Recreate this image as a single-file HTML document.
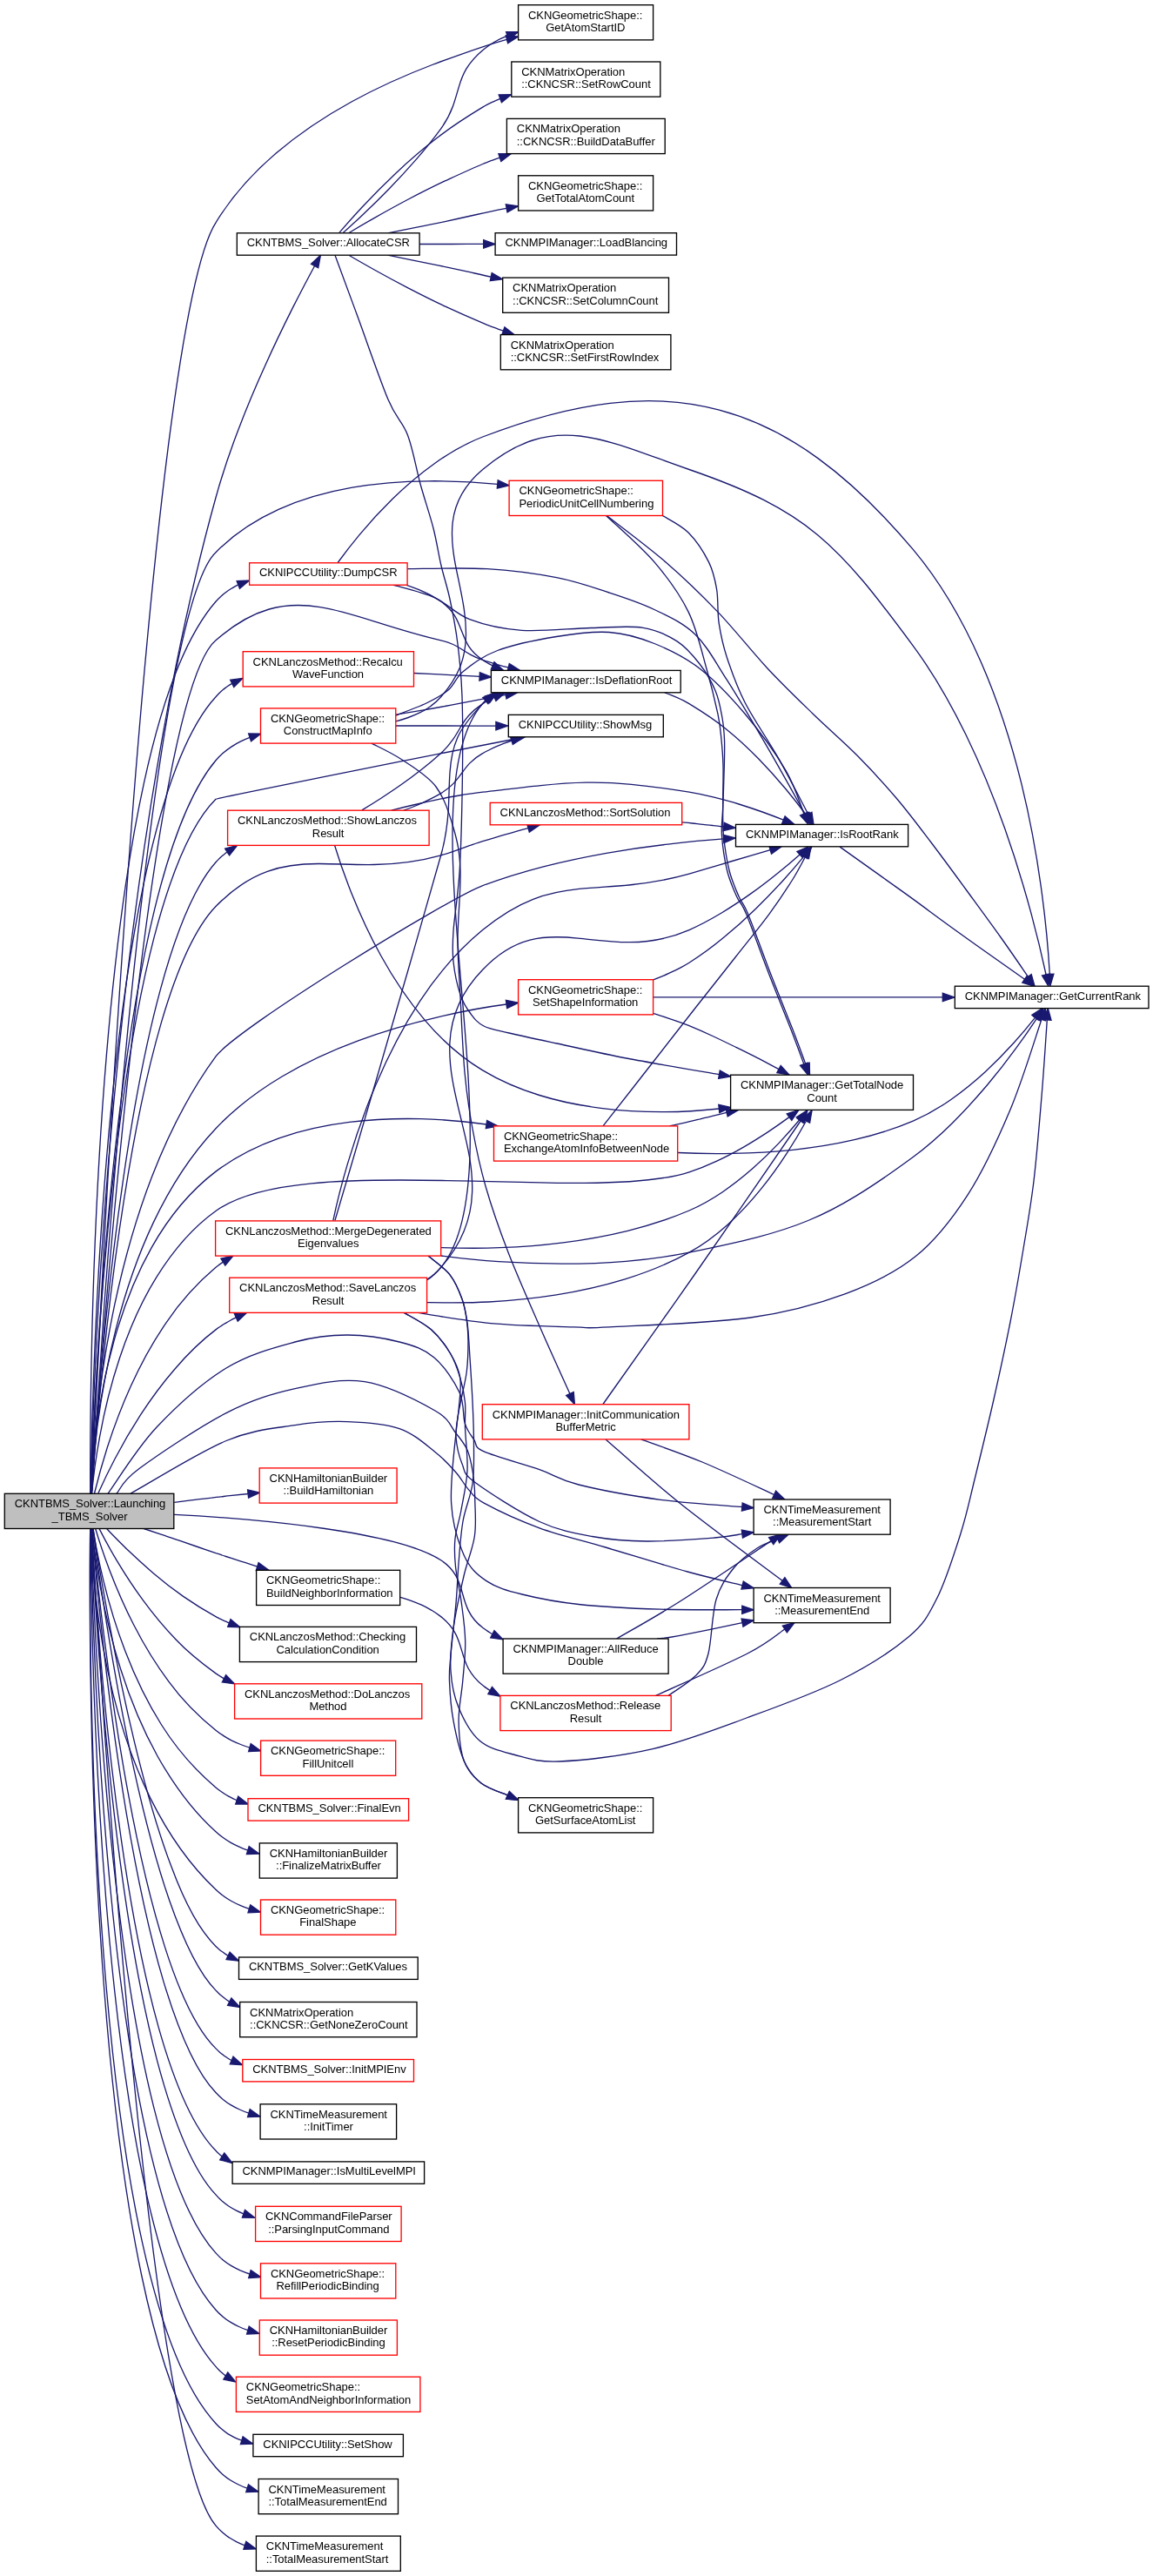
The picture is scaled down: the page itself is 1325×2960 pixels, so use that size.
<!DOCTYPE html>
<html><head><meta charset="utf-8"><title>Call graph</title><style>html,body{margin:0;padding:0;background:#fff}svg{display:block}</style></head><body>
<svg width="1325" height="2960" viewBox="0 0 1325 2960" style="will-change:transform">
<rect x="0" y="0" width="1325" height="2960" fill="#ffffff"/>
<g fill="none" stroke="#191970" stroke-width="1.33">
<path d="M104.3,1716.2 C104.9,1687.2 106.4,1629.4 110.3,1551.8 114.1,1474.3 120.4,1377.1 130.5,1269.4 140.5,1161.7 154.4,1043.6 173.5,924.2 192.6,805.3 217.0,683.5 248.0,571.8 255.1,546.0 264.0,519.6 273.9,493.7 283.7,467.8 294.5,442.4 305.3,418.7 316.0,394.9 326.7,372.9 336.4,353.6 346.2,334.4 354.9,317.9 361.6,305.5"/>
<path d="M103.8,1716.2 C103.6,1682.9 103.7,1612.1 106.0,1522.2 108.4,1432.3 113.1,1323.2 122.3,1213.4 131.5,1103.6 145.1,992.9 165.4,899.9 185.6,806.5 212.4,732.0 248.0,691.2 249.8,689.1 251.7,687.2 253.7,685.4 255.7,683.6 257.8,681.9 260.0,680.3 262.1,678.7 264.4,677.2 266.7,675.8 269.0,674.5 271.4,673.1 273.8,671.9"/>
<path d="M104.2,1715.9 C104.6,1684.6 105.8,1620.5 109.3,1539.8 112.9,1459.0 118.8,1361.7 128.7,1264.0 138.6,1166.2 152.4,1068.0 171.8,985.5 191.1,903.2 216.0,835.5 248.0,800.7 249.4,799.1 250.8,797.6 252.2,796.2 253.7,794.8 255.2,793.4 256.8,792.1 258.4,790.9 260.0,789.6 261.6,788.5 263.3,787.4 265.0,786.4 266.7,785.4"/>
<path d="M104.6,1716.2 C105.6,1686.5 107.8,1627.2 112.5,1553.0 117.2,1478.8 124.2,1389.6 134.7,1300.0 145.3,1210.4 159.2,1120.5 177.7,1044.7 196.3,968.6 219.3,907.7 248.0,873.7 250.6,870.7 253.4,867.9 256.4,865.3 259.4,862.7 262.6,860.3 265.9,858.1 269.2,855.9 272.7,853.8 276.2,852.1 279.8,850.4 283.4,848.8 287.1,847.4"/>
<path d="M105.2,1716.2 C106.9,1689.0 110.4,1637.1 116.2,1572.8 122.1,1508.5 130.4,1431.9 141.6,1355.1 152.7,1278.3 166.8,1201.5 184.4,1136.8 201.9,1072.3 223.0,1019.2 248.0,990.8 249.0,989.7 250.0,988.6 251.0,987.6 252.1,986.5 253.1,985.5 254.2,984.5 255.3,983.6 256.4,982.6 257.6,981.7 258.7,980.8 259.9,979.9 261.1,979.0"/>
<path d="M108.5,1716.0 C111.7,1703.0 116.5,1684.6 123.3,1663.3 130.2,1642.0 139.0,1617.8 150.2,1593.1 161.4,1568.3 175.0,1543.0 191.2,1519.6 207.3,1495.7 226.2,1474.7 248.0,1456.3 248.7,1455.8 249.3,1455.2 250.0,1454.7 250.7,1454.2 251.4,1453.6 252.1,1453.1 252.8,1452.6 253.5,1452.1 254.2,1451.6 254.9,1451.1 255.6,1450.6 256.3,1450.1"/>
<path d="M112.9,1715.8 C117.6,1705.3 124.0,1691.6 132.2,1676.0 140.3,1660.5 150.2,1643.3 161.6,1625.7 173.0,1608.1 186.0,1590.3 200.4,1573.7 214.8,1556.8 230.7,1541.0 248.0,1527.9 249.8,1526.5 251.6,1525.2 253.5,1524.0 255.4,1522.7 257.3,1521.5 259.3,1520.4 261.2,1519.2 263.2,1518.1 265.2,1517.0 267.2,1515.9 269.3,1514.9 271.3,1513.9"/>
<path d="M200.3,1726.3 C207.2,1725.4 214.2,1724.6 221.3,1723.7 228.5,1722.8 235.6,1721.9 242.8,1721.1 250.0,1720.1 257.1,1719.5 264.2,1718.7 271.3,1718.0 278.3,1717.2 285.1,1716.5"/>
<path d="M165.2,1756.5 C171.6,1758.7 178.3,1760.9 185.1,1763.2 191.9,1765.5 198.9,1767.7 206.0,1770.2 213.0,1772.6 220.1,1775.0 227.2,1777.5 234.2,1779.9 241.2,1782.3 248.0,1784.7 251.9,1785.9 255.8,1787.2 259.7,1788.5 263.7,1789.8 267.7,1791.1 271.7,1792.4 275.7,1793.7 279.7,1795.0 283.7,1796.2 287.8,1797.5 291.8,1798.8 295.7,1800.1"/>
<path d="M122.8,1756.8 C129.2,1763.6 137.1,1771.6 146.0,1780.3 155.0,1788.9 165.1,1798.2 175.9,1807.4 186.8,1816.7 198.4,1825.8 210.6,1834.4 222.7,1842.8 235.3,1850.7 248.0,1857.6 249.2,1858.3 250.5,1858.9 251.7,1859.6 253.0,1860.2 254.3,1860.8 255.5,1861.4 256.8,1862.0 258.1,1862.6 259.4,1863.2 260.7,1863.8 262.0,1864.3 263.3,1864.9"/>
<path d="M114.2,1756.9 C119.2,1766.7 125.9,1779.2 134.2,1793.2 142.6,1807.2 152.5,1822.7 163.9,1838.2 175.3,1853.8 188.1,1869.5 202.2,1884.0 216.2,1898.8 231.6,1911.0 248.0,1922.9 248.8,1923.4 249.5,1923.9 250.3,1924.4 251.1,1924.9 251.9,1925.4 252.6,1925.9 253.4,1926.4 254.2,1926.9 255.0,1927.4 255.8,1927.9 256.6,1928.3 257.4,1928.8"/>
<path d="M109.7,1756.5 C113.3,1768.7 118.7,1785.3 126.0,1804.5 133.3,1823.6 142.5,1845.3 153.8,1867.3 165.1,1889.4 178.5,1911.8 194.2,1932.6 209.8,1953.9 227.7,1971.9 248.0,1988.2 250.9,1990.5 253.9,1992.6 257.0,1994.6 260.1,1996.6 263.3,1998.4 266.5,2000.1 269.8,2001.7 273.2,2003.2 276.6,2004.5 280.0,2005.8 283.4,2007.1 286.9,2008.2"/>
<path d="M106.9,1756.9 C109.2,1771.2 112.9,1792.1 118.9,1816.4 124.8,1840.8 132.9,1868.7 143.9,1897.3 154.8,1925.8 168.5,1955.0 185.6,1982.0 202.8,2009.3 223.3,2033.0 248.0,2053.9 249.8,2055.4 251.7,2056.9 253.6,2058.2 255.6,2059.6 257.5,2060.9 259.6,2062.2 261.6,2063.4 263.7,2064.6 265.8,2065.7 267.9,2066.9 270.0,2067.7 272.2,2068.6"/>
<path d="M105.7,1756.6 C107.3,1772.2 110.2,1795.7 115.3,1823.7 120.5,1851.6 127.9,1884.1 138.5,1917.5 149.1,1951.0 163.0,1985.5 180.9,2017.7 198.8,2049.5 220.9,2080.4 248.0,2104.7 250.6,2107.1 253.4,2109.4 256.3,2111.5 259.2,2113.6 262.2,2115.6 265.3,2117.4 268.4,2119.2 271.6,2120.7 274.9,2122.1 278.1,2123.6 281.5,2124.9 284.8,2126.1"/>
<path d="M104.3,1756.8 C104.8,1774.2 106.2,1801.6 110.0,1834.6 113.7,1867.5 119.9,1906.2 129.9,1946.3 139.9,1986.3 153.8,2027.9 173.0,2066.6 192.2,2105.2 216.7,2141.8 248.0,2171.2 250.7,2173.8 253.6,2176.2 256.6,2178.5 259.6,2180.7 262.7,2182.8 265.9,2184.5 269.2,2186.3 272.5,2187.9 275.9,2189.3 279.3,2190.8 282.8,2192.1 286.3,2193.3"/>
<path d="M107.1,1756.9 C110.4,1778.5 116.3,1815.0 124.4,1858.7 132.4,1902.3 142.7,1953.1 154.9,2003.4 167.1,2053.6 181.1,2103.3 196.8,2144.6 212.4,2186.8 229.6,2218.5 248.0,2236.4 249.1,2237.5 250.2,2238.5 251.3,2239.5 252.4,2240.4 253.6,2241.4 254.8,2242.3 256.0,2243.1 257.2,2244.0 258.4,2244.9 259.6,2245.7 260.9,2246.5 262.1,2247.3"/>
<path d="M106.7,1757.0 C109.7,1779.9 115.1,1819.6 122.8,1867.4 130.6,1915.3 140.5,1971.3 152.6,2026.9 164.6,2082.5 178.7,2137.7 194.7,2183.8 210.7,2229.8 228.5,2267.4 248.0,2287.1 249.2,2288.3 250.4,2289.6 251.6,2290.7 252.9,2291.9 254.2,2293.0 255.5,2294.1 256.8,2295.2 258.2,2296.2 259.5,2297.2 260.9,2298.2 262.3,2299.2 263.7,2300.1"/>
<path d="M105.9,1757.0 C108.2,1781.6 112.7,1825.8 119.5,1879.6 126.3,1933.4 135.4,1996.7 147.1,2059.7 158.7,2122.7 172.8,2185.3 189.6,2237.6 206.3,2289.8 225.7,2331.9 248.0,2353.9 249.4,2355.3 250.7,2356.6 252.2,2357.9 253.6,2359.1 255.1,2360.3 256.6,2361.4 258.1,2362.6 259.7,2363.6 261.3,2364.7 262.9,2365.7 264.5,2366.7 266.1,2367.5"/>
<path d="M105.6,1756.5 C107.7,1782.0 111.8,1829.2 118.3,1887.1 124.7,1945.0 133.6,2013.6 145.0,2082.1 156.5,2150.5 170.6,2218.9 187.7,2276.1 204.8,2333.0 224.8,2380.5 248.0,2404.5 250.6,2407.3 253.4,2409.9 256.3,2412.4 259.2,2414.7 262.3,2417.0 265.5,2418.9 268.7,2420.8 272.0,2422.5 275.4,2424.0 278.8,2425.6 282.3,2427.0 285.9,2428.2"/>
<path d="M105.0,1756.5 C106.5,1783.6 109.6,1835.2 115.1,1899.0 120.6,1962.8 128.5,2038.9 139.5,2114.8 150.4,2190.7 164.5,2266.5 182.3,2329.9 200.2,2393.1 221.8,2444.7 248.0,2471.3 248.6,2471.9 249.1,2472.5 249.7,2473.1 250.3,2473.6 250.9,2474.2 251.5,2474.8 252.1,2475.3 252.7,2475.8 253.3,2476.4 254.0,2476.9 254.6,2477.4 255.2,2477.9"/>
<path d="M104.9,1756.7 C106.2,1784.9 109.0,1839.5 114.2,1907.4 119.5,1975.2 127.1,2056.4 137.9,2137.6 148.7,2218.9 162.8,2300.3 180.8,2368.6 198.9,2436.2 221.0,2493.4 248.0,2521.9 250.2,2524.5 252.6,2526.8 255.0,2529.0 257.5,2531.1 260.1,2533.1 262.8,2535.0 265.5,2536.8 268.3,2538.3 271.2,2539.8 274.0,2541.3 277.0,2542.6 280.0,2543.8"/>
<path d="M104.5,1756.9 C105.4,1786.6 107.5,1845.5 112.0,1919.0 116.4,1992.6 123.3,2080.9 133.7,2169.5 144.1,2258.0 158.0,2346.8 176.7,2421.3 195.4,2495.5 218.7,2556.8 248.0,2588.9 250.6,2591.8 253.4,2594.6 256.4,2597.1 259.4,2599.6 262.6,2601.8 265.9,2603.7 269.2,2605.6 272.6,2607.3 276.1,2608.9 279.7,2610.4 283.3,2611.8 286.9,2613.0"/>
<path d="M104.3,1756.8 C104.8,1787.8 106.1,1850.8 109.9,1929.9 113.7,2009.0 119.8,2104.3 129.8,2200.0 139.8,2295.7 153.7,2391.9 172.9,2472.6 192.1,2553.0 216.6,2619.6 248.0,2654.2 250.5,2657.0 253.2,2659.6 256.0,2662.0 258.8,2664.4 261.8,2666.7 265.0,2668.4 268.1,2670.3 271.3,2672.0 274.6,2673.5 278.0,2675.1 281.4,2676.4 284.9,2677.7"/>
<path d="M104.0,1756.6 C104.2,1788.8 104.9,1855.7 107.9,1940.3 111.0,2024.9 116.4,2127.3 125.9,2230.2 135.5,2333.2 149.3,2436.7 169.0,2523.8 188.8,2610.5 214.5,2682.2 248.0,2719.4 248.9,2720.4 249.7,2721.3 250.6,2722.3 251.5,2723.2 252.5,2724.1 253.4,2725.0 254.4,2725.9 255.3,2726.7 256.3,2727.6 257.3,2728.4 258.3,2729.2 259.3,2730.0"/>
<path d="M103.7,1756.8 C103.4,1790.3 103.1,1861.6 105.1,1952.0 107.1,2042.4 111.4,2152.1 120.4,2262.3 129.4,2372.6 143.0,2483.6 163.5,2576.7 184.0,2669.5 211.4,2745.4 248.0,2784.7 250.1,2787.0 252.2,2789.1 254.6,2791.1 256.9,2793.1 259.3,2794.9 261.8,2796.6 264.3,2798.2 266.9,2799.5 269.5,2800.8 272.2,2802.1 274.9,2803.2 277.7,2804.2"/>
<path d="M103.7,1756.8 C103.3,1791.1 102.8,1865.2 104.7,1959.5 106.6,2053.9 110.7,2168.5 119.6,2284.2 128.5,2399.8 142.0,2516.4 162.7,2614.5 183.3,2712.7 210.9,2792.5 248.0,2835.3 250.4,2838.1 253.0,2840.8 255.8,2843.2 258.6,2845.6 261.5,2847.9 264.5,2849.8 267.6,2851.7 270.8,2853.4 274.1,2855.0 277.3,2856.6 280.7,2858.0 284.1,2859.2"/>
<path d="M105.2,1756.7 C107.3,1794.2 112.4,1878.8 120.0,1986.1 127.6,2093.4 137.7,2223.4 150.1,2351.5 162.4,2479.6 177.0,2605.8 193.4,2705.6 209.9,2805.9 228.2,2879.1 248.0,2902.1 250.3,2904.8 252.7,2907.3 255.2,2909.6 257.8,2911.9 260.5,2914.2 263.3,2915.8 266.1,2917.6 269.0,2919.3 272.1,2920.8 275.1,2922.3 278.2,2923.6 281.3,2924.8"/>
<path d="M104.9,1715.9 C106.9,1673.1 111.8,1568.6 119.4,1433.9 126.9,1299.2 137.1,1134.2 149.5,970.6 161.9,806.9 176.6,644.5 193.1,514.8 209.6,385.8 228.1,286.5 248.0,255.8 266.3,225.8 290.1,199.4 317.0,176.3 343.9,153.3 373.9,133.4 404.8,116.5 435.7,99.6 467.5,85.6 497.9,74.0 528.2,62.8 557.2,52.0 582.5,45.3"/>
<path d="M105.2,1716.2 C107.4,1679.9 112.5,1599.2 120.0,1497.3 127.6,1395.4 137.8,1272.2 150.1,1151.1 162.5,1029.9 177.0,910.8 193.4,816.9 209.9,723.9 228.2,652.9 248.0,634.7 268.8,613.5 293.4,597.5 320.1,585.4 346.8,573.3 375.5,565.3 404.8,560.2 434.0,555.1 463.6,553.0 492.0,552.8 520.4,552.5 547.5,554.0 571.7,556.3"/>
<path d="M105.4,1716.2 C107.7,1681.9 112.9,1607.6 120.7,1514.5 128.5,1421.3 138.8,1309.4 151.2,1199.6 163.6,1089.8 178.1,982.2 194.4,897.8 210.6,813.7 228.6,752.0 248.0,735.8 269.7,716.7 289.7,705.6 309.3,700.0 328.9,694.4 348.0,694.4 367.8,697.6 387.7,700.7 408.4,707.1 431.1,714.3 453.9,721.5 478.6,729.4 506.7,735.8 512.4,737.1 516.9,738.7 520.7,740.5 524.6,742.2 527.8,744.2 530.9,746.2 534.1,748.3 537.2,750.3 541.0,752.3 544.7,754.4 549.1,756.4 554.7,758.3 557.0,759.1 559.4,759.9 561.9,760.7 564.3,761.5 566.8,762.2 569.2,762.9 571.7,763.7 574.2,764.4 576.7,765.1 579.2,765.7 581.7,766.4 584.2,767.0"/>
<path d="M104.6,1716.3 C105.5,1687.4 107.7,1630.5 112.3,1559.5 116.8,1488.5 123.8,1403.5 134.2,1318.3 144.7,1233.2 158.7,1148.0 177.2,1076.7 195.8,1005.7 219.0,947.2 248.0,918.3 248.4,917.9 262.3,914.9 284.8,910.3 307.3,905.6 338.5,899.3 373.4,892.3 408.4,885.3 447.1,877.6 484.8,870.1 522.5,862.6 559.1,855.6 589.8,849.5"/>
<path d="M105.4,1716.1 C107.2,1689.8 110.9,1640.8 116.9,1580.5 123.0,1520.2 131.4,1448.7 142.7,1377.2 153.9,1305.8 168.0,1234.5 185.4,1174.9 202.8,1115.4 223.5,1066.9 248.0,1041.5 268.6,1020.5 288.0,1008.2 307.3,1001.3 326.5,994.3 345.6,992.5 365.7,992.5 385.8,992.4 406.8,993.9 430.0,993.5 453.1,993.1 478.3,990.7 506.7,982.8 512.1,981.2 516.4,979.9 520.3,978.6 524.1,977.3 527.4,976.1 530.7,974.9 534.0,973.7 537.3,972.4 541.1,971.1 544.9,969.7 549.3,968.3 554.7,966.6 558.9,965.3 563.2,964.0 567.6,962.8 571.9,961.5 576.4,960.2 580.8,958.9 585.2,957.7 589.6,956.4 594.0,955.2 598.4,953.9 602.8,952.7 607.0,951.6"/>
<path d="M104.8,1715.9 C105.7,1698.5 107.6,1671.4 111.9,1638.7 116.3,1605.9 122.9,1567.4 133.2,1527.2 143.4,1487.0 157.3,1445.0 176.0,1405.4 194.7,1365.7 218.3,1328.2 248.0,1296.7 270.1,1273.4 296.1,1253.7 324.1,1237.0 352.1,1220.3 382.1,1206.7 412.3,1195.6 442.5,1184.4 473.0,1175.8 501.9,1169.1 530.8,1162.1 558.1,1157.1 582.0,1154.0"/>
<path d="M104.4,1715.9 C105.0,1699.2 106.6,1673.5 110.6,1643.0 114.5,1612.4 120.9,1577.0 131.0,1540.8 141.1,1504.6 154.9,1467.6 174.0,1433.8 193.0,1400.1 217.2,1369.5 248.0,1346.1 270.0,1329.5 294.7,1317.0 320.7,1307.8 346.8,1298.6 374.2,1292.8 401.7,1289.4 429.3,1286.0 457.0,1285.1 483.6,1285.7 510.2,1286.1 535.7,1289.0 558.9,1292.0"/>
<path d="M200.1,1740.3 C225.8,1741.6 254.7,1743.5 284.4,1746.2 314.2,1748.9 344.7,1752.3 373.5,1756.5 402.3,1760.7 429.5,1765.7 452.5,1771.7 475.5,1777.7 494.4,1784.7 506.7,1792.8 515.1,1798.3 520.4,1804.6 523.9,1810.7 527.5,1817.0 529.4,1823.6 531.3,1830.3 533.1,1837.1 534.9,1843.7 538.3,1850.6 541.7,1857.5 546.6,1864.1 554.7,1870.3 555.6,1870.9 556.5,1871.6 557.4,1872.2 558.3,1872.9 559.2,1873.5 560.1,1874.1 561.1,1874.8 562.0,1875.4 563.0,1876.0 563.9,1876.6 564.9,1877.1 565.9,1877.7"/>
<path d="M104.5,1716.2 C105.3,1697.5 107.0,1667.0 111.1,1629.3 115.2,1591.6 121.7,1546.7 131.8,1498.9 142.0,1451.2 155.8,1400.6 174.7,1351.7 193.7,1302.9 217.6,1255.4 248.0,1213.9 254.0,1205.7 273.8,1190.3 300.7,1171.4 327.6,1152.6 361.7,1130.4 396.1,1108.8 430.6,1087.1 465.5,1066.1 494.1,1049.6 522.8,1033.1 545.2,1021.2 554.7,1017.6 577.1,1009.2 600.6,1002.0 624.5,995.8 648.5,989.7 672.9,984.6 696.9,980.3 721.0,976.1 744.7,972.7 767.4,970.1 790.1,967.4 811.7,965.3 831.6,963.9"/>
<path d="M105.5,1716.2 C106.9,1700.8 109.6,1677.8 114.6,1650.8 119.5,1623.8 126.8,1592.7 137.3,1561.0 147.8,1529.3 161.6,1497.0 179.8,1467.7 197.9,1438.5 220.3,1411.3 248.0,1391.5 272.5,1373.7 311.6,1364.3 358.2,1359.8 404.8,1355.2 458.9,1355.5 513.5,1356.6 568.2,1356.9 623.4,1359.9 672.1,1359.4 720.9,1359.1 763.2,1356.2 792.0,1346.8 802.7,1343.3 813.3,1339.0 823.8,1334.1 834.3,1329.3 844.6,1323.8 854.5,1318.1 864.4,1312.4 873.8,1306.4 882.7,1300.6 891.5,1294.7 899.7,1288.9 907.0,1283.6"/>
<path d="M394.3,267.5 C400.7,261.8 408.7,254.5 417.7,245.9 426.7,237.4 436.7,227.7 446.9,217.2 457.2,206.6 467.7,195.3 477.9,183.6 488.1,171.9 497.9,159.9 506.7,147.8 513.3,138.7 517.4,130.3 520.4,122.2 523.4,114.0 525.2,106.7 527.4,99.6 529.5,92.5 531.9,85.7 536.0,78.9 540.1,72.4 545.8,65.2 554.7,57.8 556.8,56.0 559.0,54.4 561.2,52.8 563.5,51.2 565.8,49.7 568.2,48.3 570.6,46.9 573.1,45.5 575.5,44.4 578.0,43.2 580.6,42.1 583.1,41.1"/>
<path d="M389.9,267.4 C396.4,259.8 405.4,249.5 416.4,237.7 427.5,225.8 440.5,212.5 455.0,198.9 469.4,185.3 485.4,171.4 502.2,158.5 519.0,145.3 536.7,134.0 554.7,123.1 556.3,122.2 557.9,121.3 559.5,120.4 561.2,119.6 562.8,118.8 564.5,117.9 566.2,117.1 567.9,116.3 569.6,115.6 571.3,114.8 573.0,114.0 574.8,113.3"/>
<path d="M400.7,267.7 C408.9,262.8 419.0,256.8 430.4,250.3 441.9,243.8 454.7,236.7 468.3,229.5 481.9,222.4 496.2,215.1 510.8,208.2 525.4,201.5 540.2,194.6 554.7,188.5 556.3,187.8 557.9,187.2 559.5,186.6 561.1,185.9 562.7,185.3 564.4,184.7 566.0,184.1 567.7,183.5 569.3,182.9 571.0,182.3 572.7,181.7 574.3,181.1"/>
<path d="M445.6,267.8 C455.7,265.8 466.6,263.6 477.8,261.3 489.1,259.1 500.7,256.8 512.5,254.3 524.3,251.8 536.2,249.1 547.9,246.5 559.6,243.8 571.1,241.5 582.1,239.4"/>
<path d="M482.1,280.5 C488.0,280.5 494.1,280.5 500.2,280.5 506.3,280.5 512.5,280.5 518.7,280.5 524.9,280.5 531.1,280.4 537.2,280.4 543.4,280.4 549.6,280.4 555.7,280.4"/>
<path d="M445.6,293.2 C454.4,295.0 463.7,296.9 473.4,298.8 483.0,300.8 493.0,302.8 503.2,304.8 513.4,306.9 523.7,309.2 533.9,311.4 544.1,313.6 554.3,316.2 564.3,318.1"/>
<path d="M401.3,293.5 C409.5,298.3 419.7,304.1 431.1,310.5 442.6,316.9 455.3,323.8 468.9,330.9 482.4,337.9 496.7,345.1 511.2,351.9 525.7,358.6 540.4,365.1 554.7,371.2 556.6,372.1 558.5,372.8 560.5,373.6 562.4,374.4 564.4,375.2 566.4,375.9 568.3,376.6 570.3,377.4 572.3,378.1 574.3,378.8 576.4,379.5 578.4,380.2"/>
<path d="M467.2,672.3 C470.7,673.5 474.1,674.7 477.6,676.1 481.0,677.4 484.4,678.9 487.7,680.4 491.0,682.0 494.3,683.6 497.5,685.4 500.6,687.2 503.7,689.1 506.7,691.2 514.2,696.4 519.1,701.9 522.6,707.6 526.1,713.4 528.3,719.2 530.5,725.1 532.7,730.9 535.0,736.8 538.5,742.4 542.1,748.0 547.0,753.3 554.7,758.3 555.6,758.9 556.5,759.5 557.4,760.1 558.4,760.7 559.3,761.2 560.3,761.8 561.3,762.3 562.2,762.8 563.2,763.4 564.2,763.9 565.2,764.4 566.2,764.9"/>
<path d="M388.2,646.5 C394.1,638.4 402.6,627.1 413.2,614.4 423.9,601.6 436.7,587.4 451.1,573.3 465.6,559.1 481.8,545.1 499.2,532.7 516.6,520.3 535.2,509.5 554.7,502.0 607.7,481.6 656.0,468.6 700.9,463.3 745.8,458.1 787.2,460.3 826.6,471.2 866.0,481.7 903.4,499.9 940.0,526.6 976.7,553.2 1012.7,588.0 1049.3,631.4 1081.3,669.5 1106.8,714.0 1127.1,760.2 1147.4,806.5 1162.6,854.9 1174.0,901.2 1185.3,947.5 1192.8,991.7 1197.7,1029.4 1202.7,1067.2 1205.1,1098.6 1206.3,1119.3"/>
<path d="M475.5,773.5 C481.6,773.8 487.8,774.1 494.0,774.4 500.3,774.7 506.6,775.0 513.0,775.3 519.3,775.7 525.7,776.0 532.1,776.4 538.5,776.7 544.8,777.0 551.1,777.4"/>
<path d="M455.0,821.2 C464.6,819.5 474.8,817.8 485.3,816.1 495.7,814.4 506.5,812.5 517.3,810.4 528.2,808.3 539.1,806.2 549.8,804.2 560.5,802.1 571.0,800.2 581.1,798.4"/>
<path d="M455.0,834.0 C463.7,834.0 472.9,834.0 482.4,834.0 491.9,834.0 501.6,834.0 511.4,834.0 521.3,834.0 531.2,834.1 541.0,834.1 550.8,834.1 560.5,834.1 569.9,834.1"/>
<path d="M427.0,854.1 C432.8,857.2 449.7,864.7 462.0,873.0 C474.3,881.3 491.2,891.0 501.0,904.0 C510.8,917.0 516.3,935.0 521.0,951.0 C525.7,967.0 528.2,978.5 529.0,1000.0 C529.8,1021.5 526.0,1055.8 526.0,1080.0 C526.0,1104.2 527.7,1119.7 529.0,1145.0 C530.3,1170.3 531.7,1206.7 534.0,1232.0 C536.3,1257.3 539.0,1275.2 543.0,1297.0 C547.0,1318.8 551.2,1339.3 558.0,1363.0 C564.8,1386.7 573.5,1411.8 584.0,1439.0 C594.5,1466.2 609.2,1498.9 621.0,1526.0 C632.8,1553.1 649.3,1589.0 654.9,1601.5"/>
<path d="M454.9,828.8 C459.7,827.6 464.5,826.2 469.2,824.5 473.9,822.8 478.5,820.9 482.9,818.7 487.4,816.4 491.6,814.1 495.6,810.9 499.6,807.9 503.3,804.5 506.7,800.7 526.8,778.2 534.1,757.7 535.3,734.2 536.5,711.4 531.5,688.1 526.8,665.7 522.1,644.2 517.7,621.4 520.2,600.1 522.7,578.6 532.0,558.6 554.7,539.5 574.9,522.6 593.7,511.9 611.9,506.0 630.2,500.1 648.0,499.0 666.3,501.0 684.7,503.1 703.7,508.4 724.3,515.3 744.9,522.3 767.1,530.9 792.0,539.5 826.4,551.4 854.2,562.5 878.0,574.7 901.8,586.8 921.6,599.7 939.7,614.7 957.9,629.8 974.4,647.0 991.9,667.8 1009.3,688.5 1027.6,712.8 1049.3,742.1 1072.4,773.3 1092.5,808.5 1110.0,844.3 1127.5,880.2 1142.4,917.1 1154.8,952.3 1167.2,987.4 1177.2,1020.8 1185.0,1049.7 1192.8,1078.6 1198.4,1102.9 1202.1,1120.0"/>
<path d="M416.0,930.9 C422.6,926.9 429.9,922.4 437.5,917.5 445.0,912.6 452.9,907.4 460.8,901.8 468.7,896.3 476.7,890.4 484.4,884.3 492.2,878.3 499.7,872.0 506.7,865.6 512.9,860.0 517.2,854.5 520.6,849.7 524.0,844.7 526.6,840.0 529.3,835.5 532.0,830.9 534.7,826.6 538.6,822.3 542.5,817.9 547.6,813.3 554.7,808.6 555.7,807.9 556.8,807.3 557.9,806.6 559.0,806.0 560.1,805.3 561.2,804.7 562.3,804.1 563.5,803.5 564.6,802.9 565.8,802.3 566.9,801.7 568.1,801.2"/>
<path d="M464.0,931.2 C467.6,929.9 471.3,928.5 475.0,927.0 478.7,925.5 482.3,924.0 485.9,922.4 489.5,920.7 493.0,919.0 496.5,917.2 500.0,915.4 503.4,913.5 506.7,911.6 513.0,907.8 517.6,904.0 521.3,900.1 524.9,896.3 527.7,892.4 530.6,888.5 533.4,884.6 536.2,880.7 539.9,876.9 543.7,873.1 548.3,869.3 554.7,865.7 557.2,864.2 559.9,862.9 562.6,861.5 565.3,860.2 568.0,858.9 570.8,857.7 573.6,856.5 576.4,855.3 579.3,854.2 582.1,853.1 585.0,852.0 587.9,851.0"/>
<path d="M449.9,931.2 C457.9,929.1 466.2,927.0 474.8,925.0 483.4,922.9 492.2,920.9 501.1,919.1 510.0,917.3 519.1,915.5 528.0,914.0 537.0,912.5 545.9,911.3 554.7,910.2 580.9,907.2 602.3,904.6 621.3,902.7 640.3,900.7 657.0,899.5 673.6,899.2 690.2,898.9 706.8,899.5 725.7,901.3 744.7,903.1 766.0,906.0 792.0,910.2 801.4,911.8 811.0,913.8 820.6,916.1 830.2,918.5 839.8,921.0 849.1,924.0 858.4,926.9 867.5,929.9 876.1,933.0 884.7,936.1 892.9,939.2 900.3,942.2"/>
<path d="M384.6,971.5 C388.7,985.0 395.1,1004.1 403.9,1026.2 412.7,1048.2 423.9,1073.2 437.8,1098.3 451.7,1123.5 468.3,1148.8 487.7,1171.6 507.1,1194.6 529.3,1214.6 554.7,1229.9 575.0,1242.1 597.0,1251.5 619.9,1258.5 642.8,1265.6 666.6,1270.3 690.4,1273.3 714.1,1276.3 737.9,1277.6 760.8,1277.6 783.8,1277.8 805.9,1276.2 826.3,1274.0"/>
<path d="M384.9,1402.5 C389.6,1386.7 396.7,1362.6 405.4,1333.0 414.1,1303.3 424.5,1267.9 435.7,1229.5 446.9,1191.1 458.9,1149.7 471.0,1107.7 483.1,1065.7 495.2,1023.2 506.7,982.8 512.1,963.4 514.2,946.8 515.2,931.6 516.1,915.9 516.0,901.3 517.0,887.6 517.9,874.0 520.0,860.8 525.6,848.0 531.1,835.0 540.0,824.1 554.7,808.6 555.1,808.2 555.5,807.7 556.0,807.3 556.4,806.9 556.9,806.5 557.3,806.1 557.7,805.7 558.2,805.3 558.7,804.9 559.1,804.5 559.6,804.1 560.0,803.8"/>
<path d="M492.1,1443.1 C496.3,1446.8 510.7,1456.8 517.2,1465.1 C523.7,1473.4 527.8,1483.8 531.1,1492.9 C534.4,1502.1 535.5,1508.8 537.0,1520.0 C538.5,1531.2 539.0,1545.0 540.0,1560.0 C541.0,1575.0 542.2,1593.3 543.0,1610.0 C543.8,1626.7 544.5,1644.2 544.5,1660.0 C544.5,1675.8 545.1,1690.3 543.0,1705.0 C540.9,1719.7 534.6,1732.9 532.0,1748.0 C529.4,1763.1 528.4,1780.0 527.1,1795.5 C525.8,1811.0 525.6,1823.4 524.1,1841.1 C522.6,1858.8 519.3,1886.6 518.0,1901.8 C516.7,1917.0 516.0,1919.4 516.5,1932.1 C517.0,1944.8 518.3,1962.5 521.1,1977.7 C523.9,1992.9 527.9,2011.3 533.2,2023.2 C538.5,2035.1 544.6,2042.4 553.0,2049.0 C561.4,2055.6 578.4,2060.6 583.5,2063.0"/>
<path d="M382.8,1402.6 C386.0,1387.3 391.4,1364.4 399.4,1337.4 407.4,1310.3 418.0,1279.1 431.7,1246.9 445.4,1214.7 462.1,1181.5 482.4,1150.6 502.8,1119.6 526.7,1091.6 554.7,1068.6 575.8,1051.2 594.6,1040.3 612.6,1033.3 630.6,1026.3 647.8,1023.2 665.6,1021.4 683.4,1019.5 701.8,1018.9 722.4,1017.0 743.0,1015.0 765.7,1011.6 792.0,1004.2 799.7,1001.9 807.6,999.6 815.6,997.2 823.6,994.8 831.6,992.4 839.6,990.0 847.6,987.7 855.4,985.4 863.1,983.2 870.7,981.0 878.2,978.8 885.2,976.7"/>
<path d="M506.7,1433.6 C527.7,1434.3 550.5,1434.7 574.2,1433.7 597.8,1432.8 622.4,1431.0 647.2,1427.8 672.0,1424.7 696.9,1420.3 721.3,1414.3 745.7,1408.3 769.5,1400.6 792.0,1391.0 805.2,1385.3 818.1,1378.0 830.3,1369.7 842.6,1361.4 854.2,1352.1 865.1,1342.6 875.9,1333.0 886.0,1323.1 895.0,1313.6 904.0,1304.1 912.0,1294.9 918.8,1286.8"/>
<path d="M507.0,1443.0 C527.6,1445.7 549.8,1448.3 573.0,1449.7 596.2,1451.2 620.5,1452.1 645.1,1452.2 669.7,1452.2 694.6,1451.4 719.3,1449.3 744.0,1447.2 768.5,1443.9 792.0,1439.1 822.4,1432.9 847.5,1427.5 869.5,1421.8 891.5,1416.1 910.4,1410.1 928.7,1402.5 947.0,1395.0 964.6,1385.9 983.9,1374.1 1003.3,1362.4 1024.3,1347.9 1049.3,1329.5 1064.9,1318.0 1080.0,1304.7 1094.2,1290.7 1108.4,1276.6 1121.8,1261.8 1134.1,1247.3 1146.4,1232.7 1157.5,1218.3 1167.1,1205.1 1176.8,1192.0 1185.0,1180.0 1191.4,1170.3"/>
<path d="M490.9,1470.7 C492.4,1469.7 493.8,1468.8 495.2,1467.7 496.6,1466.6 497.9,1465.4 499.3,1464.2 500.6,1463.0 501.9,1461.8 503.1,1460.5 504.3,1459.1 505.5,1457.8 506.7,1456.3 529.9,1428.7 538.6,1381.5 540.1,1324.0 541.5,1267.8 535.7,1198.2 530.0,1132.1 524.3,1064.8 518.6,996.3 520.3,940.4 521.9,883.2 531.0,835.3 554.7,808.6 554.9,808.3 555.2,808.0 555.4,807.7 555.7,807.4 556.0,807.1 556.2,806.8 556.5,806.5 556.8,806.2 557.0,805.9 557.3,805.6 557.6,805.3 557.9,805.0"/>
<path d="M464.3,1508.4 C469.5,1511.6 486.6,1520.0 495.5,1527.8 C504.4,1535.6 512.2,1546.2 517.7,1555.5 C523.2,1564.8 526.0,1574.0 528.8,1583.3 C531.6,1592.5 533.4,1601.5 534.4,1611.0 C535.4,1620.5 534.1,1626.8 534.5,1640.0 C534.9,1653.2 537.8,1674.2 537.0,1690.0 C536.2,1705.8 532.3,1722.0 530.0,1735.0 C527.7,1748.0 524.1,1757.2 523.0,1768.0 C521.9,1778.8 522.3,1787.8 523.5,1800.0 C524.7,1812.2 528.3,1826.7 530.2,1841.1 C532.1,1855.5 534.5,1871.4 534.7,1886.6 C535.0,1901.8 533.0,1916.9 531.7,1932.1 C530.4,1947.3 526.9,1962.5 527.1,1977.7 C527.4,1992.9 528.9,2011.3 533.2,2023.2 C537.5,2035.1 544.6,2042.4 553.0,2049.0 C561.4,2055.6 578.4,2060.6 583.5,2063.0"/>
<path d="M491.1,1470.0 C492.5,1469.1 493.9,1468.2 495.3,1467.1 496.6,1466.0 498.0,1464.9 499.3,1463.8 500.6,1462.6 501.9,1461.4 503.1,1460.2 504.3,1459.0 505.5,1457.7 506.7,1456.3 532.4,1427.4 541.6,1399.5 542.6,1370.2 543.7,1340.9 536.5,1313.3 529.5,1284.5 522.4,1255.5 515.5,1226.8 516.9,1198.3 518.3,1169.5 528.2,1141.6 554.7,1114.3 573.2,1094.7 591.1,1084.7 609.1,1080.1 627.1,1075.5 645.2,1076.2 664.1,1078.1 682.9,1079.9 702.6,1082.9 723.7,1082.7 744.8,1082.6 767.3,1079.3 792.0,1068.6 804.4,1063.2 816.7,1056.5 828.8,1049.3 840.8,1041.9 852.5,1034.3 863.5,1026.4 874.5,1018.6 884.9,1010.6 894.2,1003.0 903.6,995.4 912.0,988.2 919.1,981.9"/>
<path d="M490.8,1496.6 C512.6,1496.9 536.5,1497.3 561.6,1496.0 586.7,1494.6 613.0,1492.1 639.4,1487.9 665.8,1483.7 692.4,1477.8 718.2,1469.9 743.9,1461.9 768.9,1451.8 792.0,1439.1 807.9,1430.4 822.7,1419.3 836.5,1406.9 850.2,1394.4 862.8,1380.7 874.2,1366.6 885.6,1352.6 895.7,1338.3 904.4,1324.8 913.2,1311.4 920.6,1298.7 926.5,1288.0"/>
<path d="M460.1,1835.3 C464.2,1836.5 468.3,1837.8 472.4,1839.3 476.5,1840.8 480.5,1842.4 484.4,1844.2 488.4,1846.0 492.2,1848.1 496.0,1850.3 499.7,1852.6 503.3,1855.0 506.7,1857.6 514.9,1864.1 520.0,1870.8 523.4,1877.1 526.9,1883.7 528.8,1890.3 530.7,1896.9 532.6,1903.5 534.5,1910.0 538.0,1916.8 541.4,1923.1 546.5,1930.2 554.7,1936.5 555.4,1937.0 556.0,1937.6 556.7,1938.1 557.4,1938.6 558.1,1939.1 558.9,1939.6 559.6,1940.1 560.3,1940.6 561.0,1941.1 561.7,1941.6 562.5,1942.1 563.2,1942.6"/>
<path d="M761.5,592.5 C766.4,595.8 782.3,603.1 791.1,612.0 C799.9,620.9 809.1,635.0 814.5,645.9 C819.9,656.8 821.6,665.4 823.6,677.1 C825.6,688.8 824.2,703.1 826.2,716.1 C828.2,729.1 830.3,740.0 835.3,755.2 C840.3,770.4 846.1,787.7 856.1,807.2 C866.1,826.7 883.1,850.9 895.2,872.3 C907.3,893.7 923.2,925.1 928.8,935.6"/>
<path d="M696.5,592.5 C705.8,601.4 736.2,627.5 752.0,645.9 C767.8,664.3 781.1,682.7 791.1,703.1 C801.1,723.5 806.3,748.7 811.9,768.2 C817.5,787.7 822.0,806.6 824.9,820.2 C827.8,833.8 828.0,840.0 829.0,850.0 C830.0,860.0 830.7,867.0 831.0,880.0 C831.3,893.0 830.6,914.7 830.7,928.0 C830.8,941.3 830.3,948.0 831.5,960.0 C832.7,972.0 835.1,988.3 838.0,1000.0 C840.9,1011.7 845.4,1021.7 849.0,1030.0 C852.6,1038.3 853.3,1035.0 859.5,1050.0 C865.7,1065.0 877.4,1097.8 886.0,1120.0 C894.6,1142.2 904.4,1165.9 911.0,1183.0 C917.6,1200.1 923.4,1216.1 925.8,1222.7"/>
<path d="M697.3,592.5 C708.6,601.4 743.8,627.5 765.1,645.9 C786.4,664.3 805.4,682.7 824.9,703.1 C844.4,723.5 864.0,748.7 882.2,768.2 C900.4,787.7 917.1,803.6 934.2,820.2 C951.3,836.8 969.0,851.9 985.0,868.0 C1001.0,884.1 1015.8,900.3 1030.0,917.0 C1044.2,933.7 1056.7,950.5 1070.0,968.0 C1083.3,985.5 1096.7,1003.8 1110.0,1022.0 C1123.3,1040.2 1138.1,1060.3 1150.0,1077.0 C1161.9,1093.7 1176.2,1114.7 1181.4,1122.2"/>
<path d="M763.8,795.9 C766.2,796.8 768.7,797.7 771.1,798.6 773.5,799.6 775.9,800.6 778.3,801.6 780.7,802.7 783.0,803.8 785.3,804.9 787.6,806.1 789.8,807.3 792.0,808.6 806.6,817.5 820.7,826.5 834.1,837.4 847.5,848.2 860.1,859.9 871.6,871.7 883.2,883.6 893.7,895.4 902.9,906.5 912.1,917.6 920.0,927.8 926.3,936.3"/>
<path d="M783.6,944.9 C787.5,945.2 791.5,945.5 795.6,946.0 799.6,946.4 803.6,946.9 807.7,947.3 811.7,947.8 815.8,948.2 819.8,948.6 823.8,949.1 827.8,949.5 831.8,949.9"/>
<path d="M750.7,1125.8 C754.3,1124.5 757.8,1123.1 761.4,1121.6 764.9,1120.1 768.5,1118.6 771.9,1116.9 775.4,1115.3 778.8,1113.6 782.2,1111.8 785.6,1110.0 788.8,1108.2 792.0,1106.2 805.6,1097.7 819.1,1087.8 831.9,1077.1 844.8,1066.5 857.1,1055.4 868.5,1044.2 879.9,1033.1 890.5,1022.0 899.9,1011.7 909.2,1001.4 917.4,991.8 924.0,983.8"/>
<path d="M751.1,1164.7 C754.5,1165.7 758.0,1166.8 761.5,1167.9 764.9,1169.0 768.4,1170.2 771.8,1171.3 775.3,1172.5 778.7,1173.7 782.0,1174.9 785.4,1176.2 788.7,1177.4 792.0,1178.7 800.9,1182.4 809.9,1186.3 819.0,1190.5 828.0,1194.7 837.0,1199.1 845.8,1203.4 854.7,1207.6 863.3,1212.0 871.6,1216.2 879.8,1220.5 887.7,1224.7 895.0,1228.6"/>
<path d="M751.0,1145.8 C772.7,1145.8 797.9,1145.8 825.0,1145.9 852.2,1146.0 881.4,1145.9 911.1,1145.9 940.8,1145.9 971.0,1145.9 1000.2,1145.9 1029.4,1145.9 1057.6,1145.9 1083.3,1145.9"/>
<path d="M693.0,1293.9 C702.5,1281.8 732.2,1243.8 750.0,1221.0 C767.8,1198.2 784.2,1177.2 800.0,1157.0 C815.8,1136.8 831.0,1117.8 845.0,1100.0 C859.0,1082.2 873.3,1064.8 884.1,1050.1 C894.9,1035.4 903.1,1022.9 910.0,1012.0 C916.9,1001.1 922.9,989.0 925.5,984.4"/>
<path d="M769.4,1293.9 C774.7,1292.7 780.1,1291.5 785.6,1290.3 791.0,1289.2 796.6,1287.8 802.1,1286.4 807.6,1285.1 813.2,1283.8 818.7,1282.4 824.2,1281.1 829.7,1279.8 835.1,1278.4"/>
<path d="M779.1,1324.5 C798.5,1325.5 819.7,1325.8 842.0,1325.4 864.2,1325.0 887.5,1323.8 911.1,1321.3 934.7,1318.8 958.5,1315.1 981.8,1309.7 1005.1,1304.3 1027.9,1297.2 1049.3,1288.1 1064.6,1281.5 1079.3,1273.0 1093.2,1263.2 1107.2,1253.4 1120.3,1242.6 1132.4,1231.5 1144.4,1220.3 1155.4,1209.0 1165.1,1198.3 1174.7,1187.6 1182.9,1177.6 1189.5,1169.3"/>
<path d="M693.2,1613.7 C694.3,1612.0 682.2,1628.8 700.0,1603.5 C717.8,1578.2 763.3,1514.6 800.0,1462.0 C836.7,1409.4 900.1,1317.0 920.1,1288.0"/>
<path d="M736.7,1653.9 C748.4,1658.2 781.5,1669.4 807.0,1680.0 C832.5,1690.6 875.9,1711.2 889.7,1717.5"/>
<path d="M696.1,1653.9 C710.1,1666.0 746.2,1699.1 780.0,1726.2 C813.8,1753.3 879.2,1801.4 899.1,1816.4"/>
<path d="M708.6,1883.0 C720.5,1876.0 750.4,1859.7 780.0,1841.0 C809.6,1822.3 868.5,1782.3 886.2,1770.6"/>
<path d="M755.0,1883.0 C759.2,1882.4 763.7,1882.7 780.0,1879.6 C796.3,1876.5 840.9,1867.2 853.0,1864.7"/>
<path d="M768.0,1948.4 C773.3,1944.5 792.3,1933.1 800.0,1925.0 C807.7,1916.9 810.2,1914.5 814.0,1900.0 C817.8,1885.5 818.2,1854.3 823.0,1838.0 C827.8,1821.7 835.2,1811.8 843.0,1802.0 C850.8,1792.2 861.5,1784.6 870.0,1779.0 C878.5,1773.4 889.8,1770.3 893.8,1768.6"/>
<path d="M753.6,1948.4 C771.2,1940.3 834.3,1912.7 859.0,1900.0 C883.7,1887.3 894.7,1876.7 901.8,1872.0"/>
<path d="M965.2,973.1 C976.5,981.1 992.0,992.2 1009.8,1004.9 1027.6,1017.8 1047.7,1031.5 1068.0,1047.0 1088.3,1062.1 1108.9,1076.8 1127.9,1090.2 1146.8,1103.6 1164.0,1115.8 1177.5,1125.3"/>
<path d="M134.0,1716.3 C138.3,1711.5 139.0,1703.0 160.0,1687.5 C181.0,1672.0 230.2,1638.9 260.0,1623.6 C289.8,1608.3 312.5,1601.7 339.0,1595.7 C365.5,1589.7 392.2,1583.5 419.0,1587.7 C445.8,1591.9 482.5,1611.1 500.0,1621.0 C517.5,1630.9 517.9,1639.7 524.0,1647.0 C530.1,1654.3 533.5,1658.9 536.4,1664.8 C539.3,1670.7 540.2,1676.0 541.6,1682.4 C543.0,1688.8 544.1,1696.4 544.8,1703.3 C545.5,1710.2 545.7,1713.7 545.8,1724.0 C545.9,1734.3 547.5,1750.5 545.4,1765.0 C543.3,1779.5 537.1,1793.3 533.0,1811.0 C528.9,1828.7 523.5,1852.8 521.0,1871.0 C518.5,1889.2 517.0,1904.8 518.0,1920.0 C519.0,1935.2 521.5,1948.7 527.0,1962.0 C532.5,1975.3 540.5,1991.0 551.0,2000.0 C561.5,2009.0 574.7,2012.0 590.0,2016.0 C605.3,2020.0 616.3,2025.1 643.0,2024.0 C669.7,2022.9 714.2,2017.9 750.0,2009.6 C785.8,2001.3 822.2,1987.1 858.0,1974.0 C893.8,1960.9 934.0,1946.5 965.0,1931.0 C996.0,1915.5 1025.3,1896.8 1044.0,1881.0 C1062.7,1865.2 1067.0,1855.8 1077.0,1836.0 C1087.0,1816.2 1096.8,1784.7 1104.0,1762.0 C1111.2,1739.3 1113.7,1725.7 1120.0,1700.0 C1126.3,1674.3 1135.2,1638.2 1142.0,1608.0 C1148.8,1577.8 1155.3,1547.8 1161.0,1519.0 C1166.7,1490.2 1171.5,1462.0 1176.0,1435.0 C1180.5,1408.0 1184.5,1386.2 1188.0,1357.0 C1191.5,1327.8 1194.4,1290.9 1197.0,1260.0 C1199.6,1229.1 1202.3,1186.6 1203.3,1171.9"/>
<path d="M124.0,1716.3 C133.3,1703.6 157.3,1664.0 180.0,1640.0 C202.7,1616.0 233.5,1588.3 260.0,1572.0 C286.5,1555.7 315.8,1548.3 339.0,1542.0 C362.2,1535.7 379.0,1534.0 399.0,1534.0 C419.0,1534.0 442.3,1537.7 459.0,1542.0 C475.7,1546.3 487.5,1550.3 499.0,1560.0 C510.5,1569.7 522.1,1587.4 528.0,1600.0 C533.9,1612.6 531.5,1626.5 534.3,1635.6 C537.1,1644.6 541.1,1648.9 544.8,1654.3 C548.4,1659.7 543.7,1662.2 556.2,1667.9 C568.7,1673.6 601.9,1682.4 620.0,1688.7 C638.1,1695.0 641.8,1700.2 665.0,1706.0 C688.2,1711.8 727.7,1719.0 759.0,1723.3 C790.3,1727.6 837.2,1730.2 852.8,1731.5"/>
<path d="M150.0,1716.3 C168.3,1706.2 228.5,1668.6 260.0,1655.5 C291.5,1642.4 315.8,1641.2 339.0,1637.6 C362.2,1633.9 379.0,1632.9 399.0,1633.6 C419.0,1634.3 442.2,1635.8 459.0,1641.6 C475.8,1647.4 489.2,1660.0 500.0,1668.4 C510.8,1676.8 517.6,1684.8 524.0,1692.0 C530.4,1699.2 533.1,1705.7 538.5,1711.6 C543.9,1717.5 542.6,1719.8 556.2,1727.2 C569.8,1734.6 596.7,1747.3 620.0,1755.8 C643.3,1764.3 667.7,1769.6 696.0,1778.0 C724.3,1786.4 763.8,1798.7 790.0,1806.0 C816.2,1813.3 842.6,1819.0 853.2,1821.6"/>
<path d="M464.3,1508.4 C469.5,1511.6 486.6,1520.0 495.5,1527.8 C504.4,1535.6 512.2,1546.2 517.7,1555.5 C523.2,1564.8 527.2,1572.5 528.8,1583.3 C530.4,1594.0 527.9,1608.7 527.1,1620.0 C526.3,1631.3 523.3,1640.6 524.0,1651.0 C524.7,1661.4 527.6,1673.7 531.2,1682.4 C534.8,1691.1 531.0,1692.3 545.8,1703.3 C560.6,1714.3 597.5,1738.1 620.0,1748.5 C642.5,1758.9 660.0,1761.8 680.5,1765.5 C701.0,1769.2 719.6,1770.8 743.0,1771.0 C766.4,1771.2 802.7,1768.4 821.0,1767.0 C839.3,1765.6 847.6,1763.3 852.9,1762.6"/>
<path d="M492.1,1443.1 C496.3,1446.8 510.7,1456.8 517.2,1465.1 C523.7,1473.4 527.9,1484.2 531.1,1492.9 C534.3,1501.6 535.1,1509.0 536.3,1517.1 C537.4,1525.2 538.0,1531.6 538.0,1541.4 C538.0,1551.2 537.7,1564.4 536.3,1576.0 C534.9,1587.6 531.3,1600.1 529.4,1610.8 C527.5,1621.5 526.5,1620.7 524.7,1640.0 C522.9,1659.3 517.2,1702.1 518.6,1726.7 C520.0,1751.3 526.6,1772.4 533.4,1787.4 C540.2,1802.4 548.3,1809.5 559.4,1816.9 C570.5,1824.3 582.4,1827.6 600.0,1832.0 C617.6,1836.4 638.5,1840.6 665.0,1843.5 C691.5,1846.4 727.7,1848.2 759.0,1849.2 C790.3,1850.2 837.1,1849.6 852.8,1849.7"/>
<path d="M385.0,293.2 C389.2,304.5 399.8,333.4 410.0,361.0 C420.2,388.6 436.3,435.9 446.0,459.0 C455.7,482.1 462.2,483.5 468.4,499.7 C474.6,515.9 478.1,538.1 483.0,556.0 C487.9,573.9 494.0,591.3 498.0,607.0 C502.0,622.7 503.8,636.4 507.0,650.0 C510.2,663.6 513.8,673.5 517.0,688.5 C520.2,703.5 523.7,721.4 526.0,740.0 C528.3,758.6 530.1,773.3 531.0,800.0 C531.9,826.7 531.8,866.7 531.3,900.0 C530.8,933.3 529.9,971.7 528.2,1000.0 C526.5,1028.3 522.2,1052.5 521.0,1070.0 C519.8,1087.5 519.7,1092.8 521.0,1105.0 C522.3,1117.2 525.7,1133.0 529.0,1143.0 C532.3,1153.0 536.5,1159.0 541.0,1165.0 C545.5,1171.0 548.7,1175.3 556.0,1179.0 C563.3,1182.7 571.0,1183.7 585.0,1187.0 C599.0,1190.3 617.5,1194.2 640.0,1199.0 C662.5,1203.8 688.9,1210.1 720.0,1216.0 C751.1,1221.9 808.7,1231.6 826.5,1234.7"/>
<path d="M452.0,672.2 C460.0,674.6 485.2,680.2 499.8,686.8 C514.4,693.4 523.1,705.4 539.7,711.6 C556.3,717.9 576.3,722.6 599.6,724.3 C622.9,725.9 656.2,722.0 679.4,721.5 C702.6,721.0 722.5,718.7 739.0,721.3 C755.5,723.9 767.2,729.9 778.1,736.9 C789.0,743.9 796.7,753.5 804.1,763.0 C811.5,772.5 818.0,783.9 822.3,794.2 C826.6,804.5 828.3,815.7 830.0,825.0 C831.7,834.3 832.1,840.8 832.5,850.0 C832.9,859.2 832.6,867.0 832.3,880.0 C832.0,893.0 831.2,914.7 830.7,928.0 C830.2,941.3 828.7,948.0 829.5,960.0 C830.3,972.0 832.7,988.3 835.5,1000.0 C838.3,1011.7 842.8,1021.7 846.5,1030.0 C850.2,1038.3 851.2,1035.0 857.5,1050.0 C863.8,1065.0 875.4,1097.8 884.0,1120.0 C892.6,1142.2 902.4,1165.9 909.0,1183.0 C915.6,1200.1 921.4,1216.1 923.8,1222.7"/>
<path d="M468.1,653.7 C483.4,653.7 531.1,652.0 559.7,653.7 C588.3,655.4 616.1,659.2 639.5,663.7 C662.9,668.2 681.2,674.9 700.0,681.0 C718.8,687.1 735.5,692.5 752.0,700.5 C768.5,708.5 785.0,715.6 798.9,729.1 C812.8,742.6 821.4,759.5 835.3,781.2 C849.2,802.9 867.2,833.4 882.2,859.2 C897.2,885.0 918.2,923.0 925.4,935.8"/>
<path d="M454.8,822.0 C460.7,819.7 480.0,812.8 490.0,808.0 C500.0,803.2 507.8,799.2 515.0,793.0 C522.2,786.8 523.5,778.6 533.0,771.0 C542.5,763.4 554.0,754.1 571.7,747.5 C589.5,740.9 618.1,735.0 639.5,731.5 C660.9,728.0 681.2,725.2 700.0,726.5 C718.8,727.8 734.6,732.5 752.0,739.5 C769.4,746.5 786.8,754.8 804.1,768.2 C821.5,781.7 839.6,800.7 856.1,820.2 C872.6,839.7 891.7,866.1 903.0,885.3 C914.3,904.5 920.4,926.8 923.9,935.1"/>
<path d="M480.0,1508.4 C494.0,1510.4 534.0,1517.8 564.0,1520.6 C594.0,1523.3 637.3,1524.2 660.0,1524.9 C682.7,1525.6 666.2,1526.7 700.0,1524.9 C733.8,1523.1 817.4,1520.3 862.6,1514.0 C907.8,1507.7 939.4,1498.6 971.0,1486.9 C1002.6,1475.2 1028.8,1462.6 1052.3,1443.6 C1075.8,1424.6 1093.9,1401.1 1112.0,1373.1 C1130.1,1345.1 1146.6,1309.2 1160.8,1275.5 C1175.0,1241.8 1191.0,1188.6 1197.0,1171.2"/>
</g>
<g fill="#191970" stroke="#191970" stroke-width="1.33">
<polygon points="365.7,307.8 368.4,293.2 357.5,303.3"/>
<polygon points="275.5,676.3 286.5,667.0 272.1,667.6"/>
<polygon points="268.8,789.6 278.9,779.4 264.7,781.2"/>
<polygon points="288.6,851.8 299.7,843.1 285.6,842.9"/>
<polygon points="263.6,982.9 272.7,971.5 258.6,975.1"/>
<polygon points="258.8,1454.1 267.9,1443.1 253.9,1446.1"/>
<polygon points="273.2,1518.2 283.6,1508.4 269.4,1509.6"/>
<polygon points="285.6,1721.2 298.6,1715.1 284.6,1711.9"/>
<polygon points="294.3,1804.5 308.8,1804.2 297.1,1795.6"/>
<polygon points="261.7,1869.3 275.8,1869.8 265.0,1860.6"/>
<polygon points="255.3,1932.9 269.5,1934.9 259.6,1924.6"/>
<polygon points="285.6,2012.7 299.7,2011.9 288.2,2003.7"/>
<polygon points="270.7,2073.0 285.2,2073.0 273.7,2064.1"/>
<polygon points="283.4,2130.5 297.8,2130.1 286.2,2121.6"/>
<polygon points="285.0,2197.8 299.4,2197.1 287.7,2188.8"/>
<polygon points="260.1,2251.5 274.4,2253.2 264.1,2243.1"/>
<polygon points="261.6,2304.3 275.9,2306.5 265.9,2296.0"/>
<polygon points="264.3,2371.8 278.5,2372.7 268.0,2363.2"/>
<polygon points="284.5,2432.7 299.0,2432.2 287.2,2423.7"/>
<polygon points="252.7,2481.8 267.0,2485.7 257.8,2474.0"/>
<polygon points="278.4,2548.2 292.8,2548.3 281.5,2539.4"/>
<polygon points="285.7,2617.5 300.0,2616.7 288.2,2608.5"/>
<polygon points="283.6,2682.1 297.9,2681.5 286.2,2673.2"/>
<polygon points="256.9,2734.0 270.7,2737.0 261.8,2726.0"/>
<polygon points="276.4,2808.7 290.7,2808.2 279.1,2799.8"/>
<polygon points="282.7,2863.7 296.9,2863.2 285.5,2854.8"/>
<polygon points="279.9,2929.3 294.2,2929.0 282.8,2920.4"/>
<polygon points="583.6,49.8 595.7,41.9 581.3,40.7"/>
<polygon points="571.3,561.0 585.1,557.7 572.2,551.7"/>
<polygon points="583.1,771.6 597.4,770.3 585.3,762.5"/>
<polygon points="590.8,854.1 603.2,846.8 588.9,844.9"/>
<polygon points="608.3,956.1 620.4,947.9 605.8,947.1"/>
<polygon points="582.6,1158.6 595.8,1152.2 581.4,1149.3"/>
<polygon points="558.3,1296.6 572.3,1293.9 559.6,1287.4"/>
<polygon points="563.7,1881.9 578.0,1883.9 568.0,1873.6"/>
<polygon points="831.9,968.6 845.1,963.0 831.3,959.3"/>
<polygon points="909.8,1287.3 917.9,1275.4 904.2,1279.8"/>
<polygon points="584.6,45.5 595.7,36.7 581.6,36.7"/>
<polygon points="576.4,117.7 587.5,108.6 573.2,108.9"/>
<polygon points="575.8,185.5 587.3,176.7 572.9,176.7"/>
<polygon points="583.0,244.0 595.5,236.8 581.3,234.8"/>
<polygon points="555.7,285.1 569.0,280.4 555.7,275.7"/>
<polygon points="563.3,322.7 577.6,320.8 565.2,313.5"/>
<polygon points="576.9,384.7 591.1,384.6 579.9,375.8"/>
<polygon points="564.3,769.2 578.5,770.3 568.0,760.6"/>
<polygon points="1201.6,1119.6 1206.9,1132.8 1210.9,1119.1"/>
<polygon points="550.9,782.0 564.6,778.0 551.4,772.7"/>
<polygon points="582.0,802.9 594.5,795.8 580.2,793.8"/>
<polygon points="569.9,838.8 583.6,834.1 569.9,829.4"/>
<polygon points="650.7,1603.5 660.4,1613.7 659.2,1599.6"/>
<polygon points="1197.5,1120.9 1204.8,1133.1 1206.6,1119.1"/>
<polygon points="569.9,805.5 580.6,795.8 566.2,796.9"/>
<polygon points="589.3,855.4 600.9,846.8 586.5,846.5"/>
<polygon points="898.6,946.5 912.8,947.3 902.1,937.9"/>
<polygon points="826.8,1278.6 839.7,1272.4 825.8,1269.3"/>
<polygon points="562.7,807.6 571.4,795.9 557.4,799.9"/>
<polygon points="581.5,2067.2 595.6,2068.5 585.4,2058.7"/>
<polygon points="886.5,981.2 898.0,972.9 883.9,972.2"/>
<polygon points="922.4,1289.7 927.5,1275.9 915.2,1283.8"/>
<polygon points="1195.3,1172.9 1199.0,1158.7 1187.5,1167.8"/>
<polygon points="560.9,808.6 568.7,795.8 554.8,801.5"/>
<polygon points="581.5,2067.2 595.6,2068.5 585.4,2058.7"/>
<polygon points="922.2,985.4 929.2,972.8 915.9,978.5"/>
<polygon points="930.6,1290.2 933.1,1275.7 922.4,1285.8"/>
<polygon points="560.9,1946.6 575.0,1949.2 565.5,1938.5"/>
<polygon points="924.6,937.8 935.0,947.4 932.9,933.4"/>
<polygon points="921.5,1224.3 930.5,1235.2 930.2,1221.1"/>
<polygon points="1177.6,1124.9 1189.0,1133.2 1185.2,1119.6"/>
<polygon points="922.5,939.0 934.2,947.3 930.1,933.6"/>
<polygon points="831.3,954.6 845.1,951.3 832.3,945.3"/>
<polygon points="927.7,986.7 932.7,973.1 920.4,980.9"/>
<polygon points="892.8,1232.7 906.9,1235.1 897.2,1224.5"/>
<polygon points="1083.3,1150.6 1096.9,1145.9 1083.3,1141.2"/>
<polygon points="929.5,986.7 932.0,972.8 921.4,982.1"/>
<polygon points="836.2,1283.0 848.6,1275.4 834.1,1273.9"/>
<polygon points="1193.2,1172.1 1197.7,1158.6 1185.8,1166.4"/>
<polygon points="924.0,1290.6 927.7,1277.0 916.3,1285.3"/>
<polygon points="887.7,1721.7 901.8,1723.0 891.6,1713.2"/>
<polygon points="896.3,1820.2 909.7,1824.5 901.9,1812.7"/>
<polygon points="888.8,1774.5 897.3,1763.2 883.6,1766.7"/>
<polygon points="854.0,1869.2 866.1,1862.0 852.1,1860.1"/>
<polygon points="895.7,1772.8 906.0,1763.2 891.9,1764.3"/>
<polygon points="904.4,1875.9 913.0,1864.7 899.3,1868.1"/>
<polygon points="1174.8,1129.1 1188.4,1133.2 1180.2,1121.5"/>
<polygon points="1208.0,1172.2 1204.3,1158.6 1198.7,1171.6"/>
<polygon points="852.4,1736.2 866.1,1732.7 853.2,1726.9"/>
<polygon points="852.0,1826.1 866.1,1824.8 854.3,1817.1"/>
<polygon points="853.5,1767.2 866.1,1760.8 852.3,1758.0"/>
<polygon points="852.7,1854.4 866.1,1849.8 852.8,1845.1"/>
<polygon points="825.7,1239.3 839.6,1237.0 827.3,1230.1"/>
<polygon points="919.5,1224.3 928.5,1235.2 928.2,1221.1"/>
<polygon points="921.4,938.1 932.0,947.4 929.5,933.5"/>
<polygon points="919.5,936.9 929.0,947.4 928.2,933.3"/>
<polygon points="1201.4,1172.7 1201.4,1158.6 1192.6,1169.7"/>
</g>
<g font-family="Liberation Sans, sans-serif" font-size="13px" letter-spacing="-0.05" fill="#000">
<rect x="5.3" y="1716.3" width="194.5" height="40.2" fill="#bfbfbf" stroke="#000000" stroke-width="1.33"/>
<text x="16.7" y="1732.3">CKNTBMS_Solver::Launching</text>
<text x="59.6" y="1746.7">_TBMS_Solver</text>
<rect x="272.3" y="267.8" width="209.8" height="25.4" fill="#ffffff" stroke="#000000" stroke-width="1.33"/>
<text x="283.7" y="283.1">CKNTBMS_Solver::AllocateCSR</text>
<rect x="286.6" y="646.8" width="181.5" height="25.4" fill="#ffffff" stroke="#ff0000" stroke-width="1.33"/>
<text x="298.0" y="662.1">CKNIPCCUtility::DumpCSR</text>
<rect x="279.2" y="748.7" width="196.3" height="40.2" fill="#ffffff" stroke="#ff0000" stroke-width="1.33"/>
<text x="290.6" y="764.7">CKNLanczosMethod::Recalcu</text>
<text x="336.0" y="779.1">WaveFunction</text>
<rect x="299.5" y="813.9" width="155.3" height="40.2" fill="#ffffff" stroke="#ff0000" stroke-width="1.33"/>
<text x="310.9" y="829.9">CKNGeometricShape::</text>
<text x="325.8" y="844.3">ConstructMapInfo</text>
<rect x="261.6" y="931.2" width="231.5" height="40.2" fill="#ffffff" stroke="#ff0000" stroke-width="1.33"/>
<text x="273.0" y="947.2">CKNLanczosMethod::ShowLanczos</text>
<text x="358.8" y="961.6">Result</text>
<rect x="247.6" y="1402.9" width="259.1" height="40.2" fill="#ffffff" stroke="#ff0000" stroke-width="1.33"/>
<text x="259.0" y="1418.9">CKNLanczosMethod::MergeDegenerated</text>
<text x="342.1" y="1433.3">Eigenvalues</text>
<rect x="263.7" y="1468.2" width="226.9" height="40.2" fill="#ffffff" stroke="#ff0000" stroke-width="1.33"/>
<text x="275.1" y="1484.2">CKNLanczosMethod::SaveLanczos</text>
<text x="358.8" y="1498.6">Result</text>
<rect x="298.2" y="1686.9" width="157.9" height="40.2" fill="#ffffff" stroke="#ff0000" stroke-width="1.33"/>
<text x="309.6" y="1702.9">CKNHamiltonianBuilder</text>
<text x="325.4" y="1717.3">::BuildHamiltonian</text>
<rect x="294.6" y="1804.3" width="165.1" height="40.2" fill="#ffffff" stroke="#000000" stroke-width="1.33"/>
<text x="306.0" y="1820.3">CKNGeometricShape::</text>
<text x="306.0" y="1834.7">BuildNeighborInformation</text>
<rect x="275.4" y="1869.4" width="203.1" height="40.2" fill="#ffffff" stroke="#000000" stroke-width="1.33"/>
<text x="286.8" y="1885.4">CKNLanczosMethod::Checking</text>
<text x="317.5" y="1899.8">CalculationCondition</text>
<rect x="269.6" y="1934.8" width="215.2" height="40.2" fill="#ffffff" stroke="#ff0000" stroke-width="1.33"/>
<text x="281.0" y="1950.8">CKNLanczosMethod::DoLanczos</text>
<text x="355.4" y="1965.2">Method</text>
<rect x="299.6" y="2000.1" width="155.1" height="40.2" fill="#ffffff" stroke="#ff0000" stroke-width="1.33"/>
<text x="311.0" y="2016.1">CKNGeometricShape::</text>
<text x="347.6" y="2030.5">FillUnitcell</text>
<rect x="285.0" y="2066.7" width="184.6" height="25.4" fill="#ffffff" stroke="#ff0000" stroke-width="1.33"/>
<text x="296.4" y="2082.0">CKNTBMS_Solver::FinalEvn</text>
<rect x="298.3" y="2117.9" width="158.1" height="40.2" fill="#ffffff" stroke="#000000" stroke-width="1.33"/>
<text x="309.7" y="2133.9">CKNHamiltonianBuilder</text>
<text x="317.1" y="2148.3">::FinalizeMatrixBuffer</text>
<rect x="299.5" y="2183.0" width="155.3" height="40.2" fill="#ffffff" stroke="#ff0000" stroke-width="1.33"/>
<text x="310.9" y="2199.0">CKNGeometricShape::</text>
<text x="344.2" y="2213.4">FinalShape</text>
<rect x="274.5" y="2249.0" width="205.7" height="25.4" fill="#ffffff" stroke="#000000" stroke-width="1.33"/>
<text x="285.9" y="2264.3">CKNTBMS_Solver::GetKValues</text>
<rect x="275.7" y="2300.5" width="203.3" height="40.2" fill="#ffffff" stroke="#000000" stroke-width="1.33"/>
<text x="287.1" y="2316.5">CKNMatrixOperation</text>
<text x="287.1" y="2330.9">::CKNCSR::GetNoneZeroCount</text>
<rect x="278.8" y="2366.5" width="196.7" height="25.4" fill="#ffffff" stroke="#ff0000" stroke-width="1.33"/>
<text x="290.2" y="2381.8">CKNTBMS_Solver::InitMPIEnv</text>
<rect x="299.1" y="2417.8" width="156.5" height="40.2" fill="#ffffff" stroke="#000000" stroke-width="1.33"/>
<text x="310.5" y="2433.8">CKNTimeMeasurement</text>
<text x="349.1" y="2448.2">::InitTimer</text>
<rect x="267.1" y="2483.9" width="220.5" height="25.4" fill="#ffffff" stroke="#000000" stroke-width="1.33"/>
<text x="278.5" y="2499.2">CKNMPIManager::IsMultiLevelMPI</text>
<rect x="293.6" y="2535.3" width="167.5" height="40.2" fill="#ffffff" stroke="#ff0000" stroke-width="1.33"/>
<text x="305.0" y="2551.3">CKNCommandFileParser</text>
<text x="308.2" y="2565.7">::ParsingInputCommand</text>
<rect x="299.5" y="2600.8" width="155.3" height="40.2" fill="#ffffff" stroke="#ff0000" stroke-width="1.33"/>
<text x="310.9" y="2616.8">CKNGeometricShape::</text>
<text x="317.5" y="2631.2">RefillPeriodicBinding</text>
<rect x="298.3" y="2666.0" width="158.1" height="40.2" fill="#ffffff" stroke="#ff0000" stroke-width="1.33"/>
<text x="309.7" y="2682.0">CKNHamiltonianBuilder</text>
<text x="312.2" y="2696.4">::ResetPeriodicBinding</text>
<rect x="271.4" y="2731.2" width="211.5" height="40.2" fill="#ffffff" stroke="#ff0000" stroke-width="1.33"/>
<text x="282.8" y="2747.2">CKNGeometricShape::</text>
<text x="282.8" y="2761.6">SetAtomAndNeighborInformation</text>
<rect x="290.9" y="2797.3" width="172.5" height="25.4" fill="#ffffff" stroke="#000000" stroke-width="1.33"/>
<text x="302.3" y="2812.6">CKNIPCCUtility::SetShow</text>
<rect x="297.1" y="2848.5" width="160.4" height="40.2" fill="#ffffff" stroke="#000000" stroke-width="1.33"/>
<text x="308.5" y="2864.5">CKNTimeMeasurement</text>
<text x="308.5" y="2878.9">::TotalMeasurementEnd</text>
<rect x="294.4" y="2914.1" width="165.9" height="40.2" fill="#ffffff" stroke="#000000" stroke-width="1.33"/>
<text x="305.8" y="2930.1">CKNTimeMeasurement</text>
<text x="305.8" y="2944.5">::TotalMeasurementStart</text>
<rect x="595.6" y="5.7" width="155.0" height="40.2" fill="#ffffff" stroke="#000000" stroke-width="1.33"/>
<text x="607.0" y="21.7">CKNGeometricShape::</text>
<text x="627.3" y="36.1">GetAtomStartID</text>
<rect x="587.8" y="71.0" width="171.0" height="40.2" fill="#ffffff" stroke="#000000" stroke-width="1.33"/>
<text x="599.2" y="87.0">CKNMatrixOperation</text>
<text x="599.2" y="101.4">::CKNCSR::SetRowCount</text>
<rect x="582.4" y="136.4" width="181.8" height="40.2" fill="#ffffff" stroke="#000000" stroke-width="1.33"/>
<text x="593.8" y="152.4">CKNMatrixOperation</text>
<text x="593.8" y="166.8">::CKNCSR::BuildDataBuffer</text>
<rect x="595.6" y="201.8" width="155.0" height="40.2" fill="#ffffff" stroke="#000000" stroke-width="1.33"/>
<text x="607.0" y="217.8">CKNGeometricShape::</text>
<text x="616.4" y="232.2">GetTotalAtomCount</text>
<rect x="569.1" y="267.7" width="208.4" height="25.4" fill="#ffffff" stroke="#000000" stroke-width="1.33"/>
<text x="580.5" y="283.0">CKNMPIManager::LoadBlancing</text>
<rect x="577.7" y="319.1" width="190.8" height="40.2" fill="#ffffff" stroke="#000000" stroke-width="1.33"/>
<text x="589.1" y="335.1">CKNMatrixOperation</text>
<text x="589.1" y="349.5">::CKNCSR::SetColumnCount</text>
<rect x="575.3" y="384.6" width="195.6" height="40.2" fill="#ffffff" stroke="#000000" stroke-width="1.33"/>
<text x="586.7" y="400.6">CKNMatrixOperation</text>
<text x="586.7" y="415.0">::CKNCSR::SetFirstRowIndex</text>
<rect x="585.1" y="552.3" width="176.4" height="40.2" fill="#ffffff" stroke="#ff0000" stroke-width="1.33"/>
<text x="596.5" y="568.3">CKNGeometricShape::</text>
<text x="596.5" y="582.7">PeriodicUnitCellNumbering</text>
<rect x="564.4" y="770.4" width="217.8" height="25.4" fill="#ffffff" stroke="#000000" stroke-width="1.33"/>
<text x="575.8" y="785.7">CKNMPIManager::IsDeflationRoot</text>
<rect x="584.3" y="821.4" width="178.0" height="25.4" fill="#ffffff" stroke="#000000" stroke-width="1.33"/>
<text x="595.7" y="836.7">CKNIPCCUtility::ShowMsg</text>
<rect x="563.2" y="922.4" width="220.5" height="25.4" fill="#ffffff" stroke="#ff0000" stroke-width="1.33"/>
<text x="574.6" y="937.7">CKNLanczosMethod::SortSolution</text>
<rect x="595.6" y="1125.7" width="155.0" height="40.2" fill="#ffffff" stroke="#ff0000" stroke-width="1.33"/>
<text x="607.0" y="1141.7">CKNGeometricShape::</text>
<text x="612.1" y="1156.1">SetShapeInformation</text>
<rect x="567.5" y="1293.9" width="211.2" height="40.2" fill="#ffffff" stroke="#ff0000" stroke-width="1.33"/>
<text x="578.9" y="1309.9">CKNGeometricShape::</text>
<text x="578.9" y="1324.3">ExchangeAtomInfoBetweenNode</text>
<rect x="554.3" y="1613.7" width="237.6" height="40.2" fill="#ffffff" stroke="#ff0000" stroke-width="1.33"/>
<text x="565.7" y="1629.7">CKNMPIManager::InitCommunication</text>
<text x="638.5" y="1644.1">BufferMetric</text>
<rect x="578.1" y="1883.0" width="190.0" height="40.2" fill="#ffffff" stroke="#000000" stroke-width="1.33"/>
<text x="589.5" y="1899.0">CKNMPIManager::AllReduce</text>
<text x="652.6" y="1913.4">Double</text>
<rect x="574.9" y="1948.4" width="196.3" height="40.2" fill="#ffffff" stroke="#ff0000" stroke-width="1.33"/>
<text x="586.3" y="1964.4">CKNLanczosMethod::Release</text>
<text x="654.7" y="1978.8">Result</text>
<rect x="595.6" y="2065.7" width="155.0" height="40.2" fill="#ffffff" stroke="#000000" stroke-width="1.33"/>
<text x="607.0" y="2081.7">CKNGeometricShape::</text>
<text x="615.0" y="2096.1">GetSurfaceAtomList</text>
<rect x="845.5" y="947.4" width="198.1" height="25.4" fill="#ffffff" stroke="#000000" stroke-width="1.33"/>
<text x="856.9" y="962.7">CKNMPIManager::IsRootRank</text>
<rect x="839.6" y="1235.2" width="209.9" height="40.2" fill="#ffffff" stroke="#000000" stroke-width="1.33"/>
<text x="851.0" y="1251.2">CKNMPIManager::GetTotalNode</text>
<text x="927.3" y="1265.6">Count</text>
<rect x="866.1" y="1723.0" width="157.0" height="40.2" fill="#ffffff" stroke="#000000" stroke-width="1.33"/>
<text x="877.5" y="1739.0">CKNTimeMeasurement</text>
<text x="888.1" y="1753.4">::MeasurementStart</text>
<rect x="866.1" y="1824.5" width="157.0" height="40.2" fill="#ffffff" stroke="#000000" stroke-width="1.33"/>
<text x="877.5" y="1840.5">CKNTimeMeasurement</text>
<text x="890.2" y="1854.9">::MeasurementEnd</text>
<rect x="1097.3" y="1133.2" width="222.7" height="25.4" fill="#ffffff" stroke="#000000" stroke-width="1.33"/>
<text x="1108.7" y="1148.5">CKNMPIManager::GetCurrentRank</text>
</g>
</svg>
</body></html>
